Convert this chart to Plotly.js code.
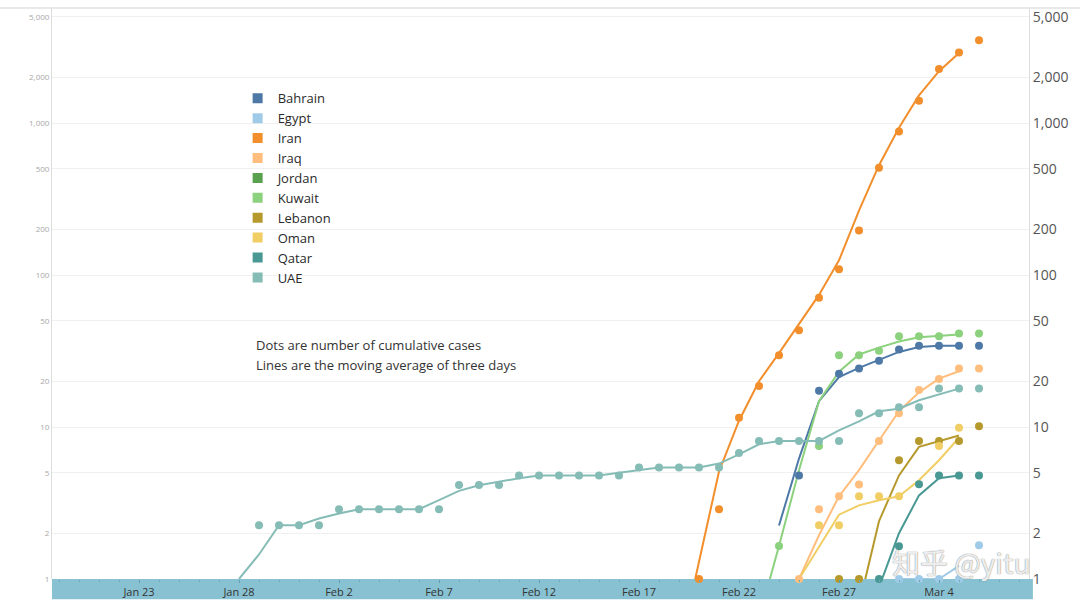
<!DOCTYPE html>
<html>
<head>
<meta charset="utf-8">
<script src="https://cdn.plot.ly/plotly-3.0.1.min.js"></script>
<style>
  html, body { margin: 0; padding: 0; background: #ffffff; }
  #chart { width: 1080px; height: 608px; }
</style>
</head>
<body>
<div id="chart"></div>
<script>
// ---- Day categories (as labelled on the original axis) ----
const days = ['Jan 23','Jan 24','Jan 25','Jan 26','Jan 27','Jan 28','Jan 29','Jan 30','Jan 31',
  'Feb 1','Feb 2','Feb 3','Feb 4','Feb 5','Feb 6','Feb 7','Feb 8','Feb 9','Feb 10','Feb 11',
  'Feb 12','Feb 13','Feb 14','Feb 15','Feb 16','Feb 17','Feb 18','Feb 19','Feb 20','Feb 21',
  'Feb 22','Feb 23','Feb 24','Feb 25','Feb 26','Feb 27','Feb 28','Mar 1','Mar 2','Mar 3',
  'Mar 4','Mar 5','Mar 6'];
const xTickLabels = ['Jan 23','Jan 28','Feb 2','Feb 7','Feb 12','Feb 17','Feb 22','Feb 27','Mar 4'];
const yTickValues = [1,2,5,10,20,50,100,200,500,1000,2000,5000];
const yTickText = ['1','2','5','10','20','50','100','200','500','1,000','2,000','5,000'];

// ---- Series ----
const countries = ['Bahrain','Egypt','Iran','Iraq','Jordan','Kuwait','Lebanon','Oman','Qatar','UAE'];
const colors = ['#4e79a7','#a0cbe8','#f28e2b','#ffbe7d','#59a14f','#8cd17d','#b6992d','#f1ce63','#499894','#86bcb6'];

// cumulative cases (dots), first day of each list
const dotStarts = ['Feb 25','Mar 2','Feb 20','Feb 25','Mar 6','Feb 24','Feb 27','Feb 26','Mar 1','Jan 29'];
const bahrainDots = [4.8,17.3,22.4,24.3,27.3,32.4,34.2,34.2,34.2,34.2];
const egyptDots   = [1,1,1,1,1.67];
const iranDots    = [1,2.88,11.5,18.6,29.7,43.4,71,109,196,508,880,1403,2271,2910,3505];
const iraqDots    = [1,2.88,3.5,4.18,8.1,12.3,17.5,20.7,24.3,24.3];
const jordanDots  = [];
const kuwaitDots  = [1.65,null,7.5,29.7,29.7,31.7,39.6,39.6,39.6,41.3,41.3];
const lebanonDots = [1,1,null,6.05,8.1,8.1,8.1,10.1];
const omanDots    = [2.26,2.26,3.5,3.5,3.5,null,7.5,9.9];
const qatarDots   = [1,1.64,4.2,4.8,4.8,4.8];
const uaeDots     = [2.26,2.26,2.26,2.26,2.88,2.88,2.88,2.88,2.88,2.88,4.16,4.16,4.16,
                     4.79,4.79,4.79,4.79,4.79,4.79,5.41,5.41,5.41,5.41,5.41,6.75,
                     8.1,8.1,8.1,8.1,8.1,12.3,12.3,13.5,13.5,17.9,17.9,17.9];

// three-day moving average (lines), first day of each list
const lineStarts = ['Feb 24','Mar 1','Feb 19','Feb 25','Mar 6','Feb 23','Feb 27','Feb 25','Feb 28','Jan 28'];
const bahrainLine = [2.25,6.2,14.8,21.3,24.5,27.8,31.2,33.6,34.2,34.2];
const egyptLine   = [0.67,1,1,1,1.22];
const iranLine    = [0.33,1.3,5.1,11,20,30.6,48,74,125,265,528,930,1520,2195,2895];
const iraqLine    = [1.0,1.94,3.5,5.2,8.15,12.7,16.9,20.8,23.3];
const jordanLine  = [];
const kuwaitLine  = [0.55,1.65,5.2,14.8,23.1,30.0,33.3,36.5,38.9,39.8,40.6];
const lebanonLine = [0.67,0.67,2.4,4.8,7.4,8.1,8.8];
const omanLine    = [1.0,1.62,2.65,3.05,3.3,3.5,4.46,6.05,8.5];
const qatarLine   = [0.33,0.88,2.0,3.55,4.6,4.8];
const uaeLine     = [1.0,1.45,2.26,2.26,2.5,2.7,2.88,2.88,2.88,2.88,3.3,3.8,4.14,4.37,
                     4.6,4.79,4.79,4.79,4.79,5.0,5.2,5.41,5.41,5.41,5.75,6.6,7.7,8.1,
                     8.1,8.1,9.5,10.9,12.7,13.2,15.0,16.4,17.9];

const dotValues  = [bahrainDots,egyptDots,iranDots,iraqDots,jordanDots,kuwaitDots,lebanonDots,omanDots,qatarDots,uaeDots];
const lineValues = [bahrainLine,egyptLine,iranLine,iraqLine,jordanLine,kuwaitLine,lebanonLine,omanLine,qatarLine,uaeLine];

function xsFrom(startLabel, vals) {
  const s = days.indexOf(startLabel);
  return vals.map((_, i) => s + i);
}
function labelsFrom(startLabel, vals) {
  const s = days.indexOf(startLabel);
  return vals.map((_, i) => days[s + i]);
}

const traces = [];
// lines first
countries.forEach((c, k) => {
  const v = lineValues[k];
  if (!v.length) return;
  traces.push({
    type: 'scatter', mode: 'lines', name: c, showlegend: false,
    x: xsFrom(lineStarts[k], v), y: v, text: labelsFrom(lineStarts[k], v),
    line: { color: colors[k], width: 2 },
    hovertemplate: c + ' %{text}: %{y:.1f}<extra></extra>'
  });
});
// dots on top
countries.forEach((c, k) => {
  const v = dotValues[k];
  if (!v.length) return;
  traces.push({
    type: 'scatter', mode: 'markers', name: c, showlegend: false,
    x: xsFrom(dotStarts[k], v), y: v, text: labelsFrom(dotStarts[k], v),
    marker: { color: colors[k], size: 8 },
    cliponaxis: false,
    hovertemplate: c + ' %{text}: %{y}<extra></extra>'
  });
});
// legend entries (square swatches), attached to the right axis
countries.forEach((c, k) => {
  traces.push({
    type: 'scatter', mode: 'markers', name: c, showlegend: true,
    x: [null], y: [null], yaxis: 'y2',
    marker: { color: colors[k], size: 10, symbol: 'square' },
    hoverinfo: 'skip'
  });
});

const xTickVals = xTickLabels.map(l => days.indexOf(l));
const FONT = 'Open Sans, DejaVu Sans, sans-serif';
const yRange = [0, 3.757];

const layout = {
  width: 1080, height: 608,
  margin: { l: 52, r: 51, t: 8, b: 29 },
  paper_bgcolor: '#ffffff', plot_bgcolor: '#ffffff',
  font: { family: FONT, color: '#333' },
  showlegend: true,
  legend: {
    x: 0.19, xanchor: 'left', y: 0.868, yanchor: 'top',
    bgcolor: 'rgba(0,0,0,0)', font: { size: 13, color: '#2a2a2a', family: FONT },
    traceorder: 'normal', itemclick: false, itemdoubleclick: false
  },
  xaxis: {
    range: [-4.35, 44.5], tickvals: xTickVals, ticktext: xTickLabels,
    showgrid: false, zeroline: false, showline: false,
    ticks: 'outside', ticklen: 3, tickcolor: '#5f9fb0', tickwidth: 1,
    minor: { dtick: 1, ticks: 'outside', ticklen: 2, tickcolor: '#6aaabb' },
    tickfont: { size: 11, color: '#333', family: FONT },
    fixedrange: true
  },
  yaxis: {
    type: 'log', range: yRange, tickvals: yTickValues, ticktext: yTickText,
    showgrid: true, gridcolor: '#f0f0f0', gridwidth: 1,
    showline: true, linecolor: '#dddddd', linewidth: 1,
    ticks: '', zeroline: false,
    tickfont: { size: 8, color: '#a8a8a8', family: FONT },
    fixedrange: true
  },
  yaxis2: {
    type: 'log', range: yRange, overlaying: 'y', side: 'right',
    tickvals: yTickValues, ticktext: yTickText,
    showgrid: false, showline: true, linecolor: '#dddddd', linewidth: 1,
    ticks: '', zeroline: false,
    tickfont: { size: 14, color: '#555', family: FONT },
    fixedrange: true
  },
  shapes: [
    { type: 'rect', xref: 'paper', yref: 'paper', x0: 0, x1: 1.004, y0: -0.0356, y1: 0,
      fillcolor: '#88c2d2', line: { width: 0 }, layer: 'below' },
    { type: 'line', xref: 'paper', yref: 'paper', x0: -0.0533, x1: 1.053, y0: 1, y1: 1,
      line: { color: '#e2e2e2', width: 1.5 } }
  ],
  annotations: [
    { xref: 'paper', yref: 'paper', x: 0.2068, y: 0.4095, xanchor: 'left', yanchor: 'middle',
      text: 'Dots are number of cumulative cases', showarrow: false,
      font: { size: 13, color: '#333', family: FONT } },
    { xref: 'paper', yref: 'paper', x: 0.2068, y: 0.3745, xanchor: 'left', yanchor: 'middle',
      text: 'Lines are the moving average of three days', showarrow: false,
      font: { size: 13, color: '#333', family: FONT } },
    { xref: 'paper', yref: 'paper', x: 0.9305, y: 0.03, xanchor: 'center', yanchor: 'middle',
      text: '知乎 @yitu', showarrow: false,
      font: { size: 28, color: 'rgba(255,255,255,0.85)', family: 'Noto Sans CJK SC, sans-serif',
              shadow: '0 0 1px #8a8a8a, 0 0 1px #8a8a8a' } }
  ]
};

Plotly.newPlot('chart', traces, layout, { displayModeBar: false, staticPlot: false });
</script>
</body>
</html>
